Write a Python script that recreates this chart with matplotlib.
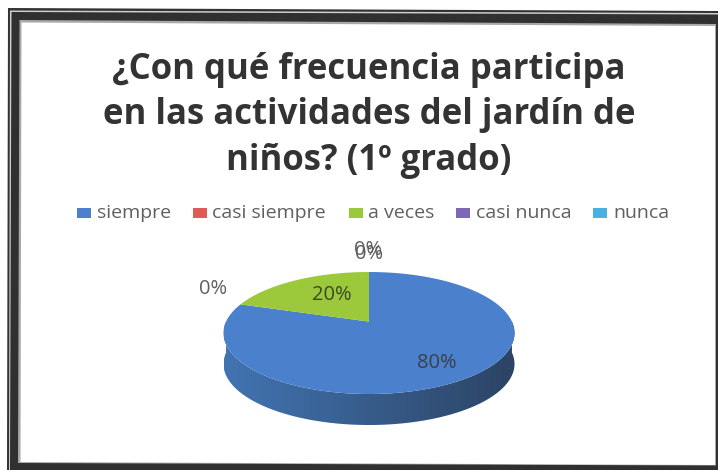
import matplotlib
matplotlib.use("Agg")
import matplotlib.pyplot as plt
import numpy as np
from matplotlib.patches import Polygon, Rectangle

categories = ["siempre", "casi siempre", "a veces", "casi nunca", "nunca"]
values = [80, 0, 20, 0, 0]
colors = ["#4a80cc", "#e05a58", "#9cc93c", "#7d68b8", "#4ab0e4"]
title_lines = ["¿Con qué frecuencia participa", "en las actividades del jardín de", "niños? (1º grado)"]

W, H = 718, 470
CX, CY, RX, RY = 369, 333, 145.5, 61
DEPTH = 31
K = 0.187  # moves the pie apex up, fake perspective


def project(theta):
    # unit circle point -> pixel position on the tilted pie top
    x, y = np.cos(theta), np.sin(theta)
    d = 1 + K * y
    return CX + RX * np.sqrt(1 - K**2) * x / d, CY - RY * (y + K) / d


def wedge_points(a0, a1):
    n = max(2, int(abs(a1 - a0) * 60))
    px, py = project(np.linspace(a0, a1, n))
    apex = (CX, CY - RY * K)
    return np.vstack([apex, np.column_stack([px, py])])


def quad(ax, pts, color, z):
    ax.add_patch(Polygon(pts, closed=True, fc=color, ec="none", zorder=z))


fig = plt.figure(figsize=(W / 100, H / 100), dpi=100)
ax = fig.add_axes([0, 0, 1, 1])
ax.set_xlim(0, W)
ax.set_ylim(H, 0)
ax.axis("off")

# scanned double frame, the scan is a bit skewed so these are not rectangles
quad(ax, [(8, 8), (718, 11), (718, 470), (7, 470)], "#333333", 0)
quad(ax, [(10, 10.5), (718, 13), (718, 470), (9, 470)], "#cfcfcf", 0.1)
quad(ax, [(11.5, 12), (718, 14.5), (718, 470), (10, 470)], "#303030", 0.2)
quad(ax, [(19.5, 20), (716, 24), (716, 465.5), (18, 463)], "#a8a8a8", 0.3)
quad(ax, [(21.5, 22.5), (715, 26), (715, 465), (20.5, 462)], "white", 0.4)

# side wall with left-to-right gradient, clipped to the wall outline
t = np.linspace(np.pi, 2 * np.pi, 200)
bx, by = project(t)
wall = np.vstack([np.column_stack([bx, by]), np.column_stack([bx, by + DEPTH])[::-1]])
clip = Polygon(wall, closed=True, transform=ax.transData, fc="none", ec="none")
ax.add_patch(clip)
c0, c1 = np.array([66, 116, 178]) / 255, np.array([44, 68, 100]) / 255
f = np.linspace(0, 1, 256)[:, None]
grad = (c0[None, :] * (1 - f) + c1[None, :] * f)[None, :, :]
im = ax.imshow(grad, extent=[CX - RX, CX + RX, by.max() + DEPTH, by.min()], aspect="auto", zorder=1)
im.set_clip_path(clip)
ax.set_xlim(0, W)
ax.set_ylim(H, 0)

# slices clockwise from 12 o'clock
total = sum(values)
ang = np.pi / 2 - 2 * np.pi * np.concatenate([[0], np.cumsum(values)]) / total
for i, v in enumerate(values):
    if v > 0:
        quad(ax, wedge_points(ang[i], ang[i + 1]), colors[i], 2)

# title
for line, y in zip(title_lines, [70, 115, 161]):
    ax.text(369, y, line, ha="center", va="center", fontsize=25, fontweight="bold",
            family="Open Sans", color="#333333", zorder=3)

# legend
leg_sq = [77, 193, 349, 456, 593]
leg_txt = [97, 212, 368, 476, 613]
for name, c, sx, tx in zip(categories, colors, leg_sq, leg_txt):
    ax.add_patch(Rectangle((sx, 208), 14, 10, fc=c, ec="none", zorder=3))
    ax.text(tx, 213, name, ha="left", va="center", fontsize=14, family="Open Sans",
            color="#5f5f5f", zorder=3)

# data labels (three of them overlap at the top)
labels = [("80%", 437, 363, "#3c4048"), ("0%", 213, 289, "#5f5f5f"), ("20%", 332, 295, "#3a4a28"),
          ("0%", 368, 250, "#5f5f5f"), ("0%", 369, 254, "#5f5f5f")]
for s, x, y, c in labels:
    ax.text(x, y, s, ha="center", va="center", fontsize=14.5, family="Open Sans", color=c, zorder=4)

fig.savefig("out.png", dpi=100)
